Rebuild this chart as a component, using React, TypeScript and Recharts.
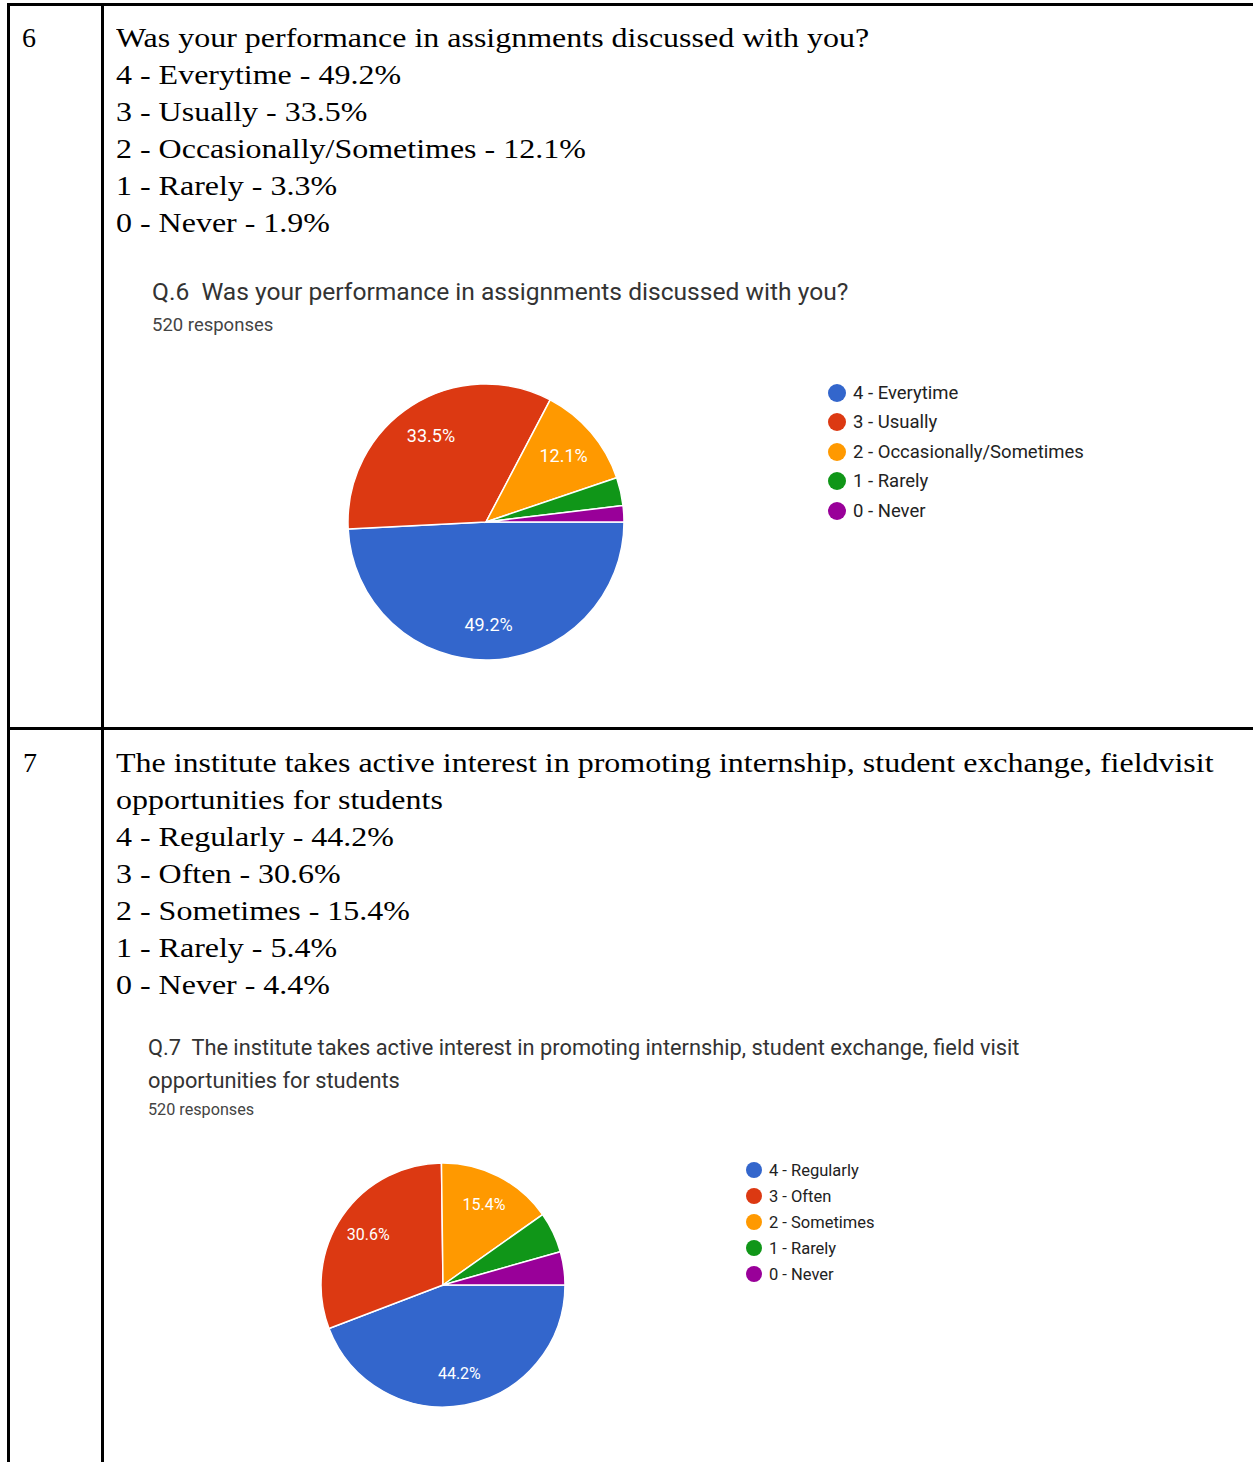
import React from "react";
import { PieChart, Pie, Cell, Legend } from "recharts";

const COLORS = ["#3366cc", "#dc3912", "#ff9900", "#109618", "#990099"];

const q6Labels = ["4 - Everytime", "3 - Usually", "2 - Occasionally/Sometimes", "1 - Rarely", "0 - Never"];
const q6Values = [49.2, 33.5, 12.1, 3.3, 1.9];
const q6Question = "Was your performance in assignments discussed with you?";
const q6Title = "Q.6  Was your performance in assignments discussed with you?";

const q7Labels = ["4 - Regularly", "3 - Often", "2 - Sometimes", "1 - Rarely", "0 - Never"];
const q7Values = [44.2, 30.6, 15.4, 5.4, 4.4];
const q7QuestionLines = [
  "The institute takes active interest in promoting internship, student exchange, fieldvisit",
  "opportunities for students",
];
const q7TitleLines = [
  "Q.7  The institute takes active interest in promoting internship, student exchange, field visit",
  "opportunities for students",
];
const responses = "520 responses";

const q6Data = q6Labels.map((name, i) => ({ name, value: q6Values[i] }));
const q7Data = q7Labels.map((name, i) => ({ name, value: q7Values[i] }));

const RAD = Math.PI / 180;

const makeLabel = (fontSize: number) => (props: any) => {
  const { cx, cy, midAngle, outerRadius, value } = props;
  if (value < 10) return null;
  const r = outerRadius * 0.74;
  const x = cx + r * Math.cos(-midAngle * RAD);
  const y = cy + r * Math.sin(-midAngle * RAD);
  return (
    <text
      x={x}
      y={y}
      fill="#ffffff"
      textAnchor="middle"
      dominantBaseline="central"
      fontFamily="Roboto, Arial, sans-serif"
      fontSize={fontSize}
    >
      {value.toFixed(1)}%
    </text>
  );
};

const makeLegend = (order: string[], itemH: number, dot: number, fontSize: number) => (props: any) => {
  const payload = [...(props.payload || [])].sort(
    (a: any, b: any) => order.indexOf(a.value) - order.indexOf(b.value)
  );
  return (
    <div style={{ fontFamily: "Roboto, Arial, sans-serif", fontSize, color: "#222" }}>
      {payload.map((p: any, i: number) => (
        <div key={i} style={{ height: itemH, display: "flex", alignItems: "center", whiteSpace: "nowrap" }}>
          <svg width={dot} height={dot} style={{ marginRight: 7, flex: "none" }}>
            <circle cx={dot / 2} cy={dot / 2} r={dot / 2} fill={p.color} />
          </svg>
          <span>{p.value}</span>
        </div>
      ))}
    </div>
  );
};

const serif: React.CSSProperties = {
  position: "absolute",
  fontFamily: "'Liberation Serif', 'Times New Roman', serif",
  fontSize: 28,
  lineHeight: "37px",
  color: "#000",
  whiteSpace: "nowrap",
  transform: "scaleX(1.142)",
  transformOrigin: "left top",
};

const sans: React.CSSProperties = {
  position: "absolute",
  fontFamily: "Roboto, Arial, sans-serif",
  whiteSpace: "pre",
};

const line = (s: React.CSSProperties): React.CSSProperties => ({ position: "absolute", background: "#000", ...s });

export default function App() {
  return (
    <div style={{ position: "absolute", left: 0, top: 0, width: 1253, height: 1462, background: "#fff", overflow: "hidden" }}>
      {/* table borders */}
      <div style={line({ left: 7, top: 3, width: 1246, height: 3 })} />
      <div style={line({ left: 7, top: 3, width: 3, height: 1459 })} />
      <div style={line({ left: 101, top: 3, width: 3, height: 1459 })} />
      <div style={line({ left: 7, top: 727, width: 1246, height: 3 })} />

      {/* row 6 */}
      <div style={{ ...serif, left: 22, top: 19, transform: "none" }}>6</div>
      <div style={{ ...serif, left: 116, top: 19 }}>
        <div>{q6Question}</div>
        {q6Labels.map((l, i) => (
          <div key={i}>{`${l} - ${q6Values[i]}%`}</div>
        ))}
      </div>
      <div style={{ ...sans, left: 152, top: 277, fontSize: 24.6, lineHeight: "30px", color: "#333" }}>{q6Title}</div>
      <div style={{ ...sans, left: 152, top: 315, fontSize: 18.5, lineHeight: "20px", color: "#444" }}>{responses}</div>

      <div style={{ position: "absolute", left: 300, top: 360 }}>
        <PieChart width={850} height={330} margin={{ top: 0, right: 0, bottom: 0, left: 0 }}>
          <Pie
            data={q6Data}
            dataKey="value"
            nameKey="name"
            cx={186}
            cy={162}
            outerRadius={138}
            startAngle={0}
            endAngle={-360}
            stroke="#ffffff"
            strokeWidth={1.5}
            label={makeLabel(18)}
            labelLine={false}
            isAnimationActive={false}
          >
            {q6Data.map((d, i) => (
              <Cell key={d.name} fill={COLORS[i]} />
            ))}
          </Pie>
          <Legend
            layout="vertical"
            align="right"
            verticalAlign="top"
            itemSorter={(item: any) => q6Labels.indexOf(item.value)}
            content={makeLegend(q6Labels, 29.5, 18, 18.5)}
            wrapperStyle={{ left: 528, top: 18, width: 320 }}
          />
        </PieChart>
      </div>

      {/* row 7 */}
      <div style={{ ...serif, left: 23, top: 744, transform: "none" }}>7</div>
      <div style={{ ...serif, left: 116, top: 744 }}>
        {q7QuestionLines.map((l, i) => (
          <div key={"q" + i}>{l}</div>
        ))}
        {q7Labels.map((l, i) => (
          <div key={i}>{`${l} - ${q7Values[i]}%`}</div>
        ))}
      </div>
      <div style={{ ...sans, left: 148, top: 1031, fontSize: 21.8, lineHeight: "33px", color: "#333" }}>
        {q7TitleLines.map((l, i) => (
          <div key={i}>{l}</div>
        ))}
      </div>
      <div style={{ ...sans, left: 148, top: 1100, fontSize: 16.2, lineHeight: "20px", color: "#444" }}>{responses}</div>

      <div style={{ position: "absolute", left: 280, top: 1140 }}>
        <PieChart width={700} height={290} margin={{ top: 0, right: 0, bottom: 0, left: 0 }}>
          <Pie
            data={q7Data}
            dataKey="value"
            nameKey="name"
            cx={163}
            cy={145}
            outerRadius={122}
            startAngle={0}
            endAngle={-360}
            stroke="#ffffff"
            strokeWidth={1.5}
            label={makeLabel(16)}
            labelLine={false}
            isAnimationActive={false}
          >
            {q7Data.map((d, i) => (
              <Cell key={d.name} fill={COLORS[i]} />
            ))}
          </Pie>
          <Legend
            layout="vertical"
            align="right"
            verticalAlign="top"
            itemSorter={(item: any) => q7Labels.indexOf(item.value)}
            content={makeLegend(q7Labels, 26, 16, 16.5)}
            wrapperStyle={{ left: 466, top: 17, width: 240 }}
          />
        </PieChart>
      </div>
    </div>
  );
}
